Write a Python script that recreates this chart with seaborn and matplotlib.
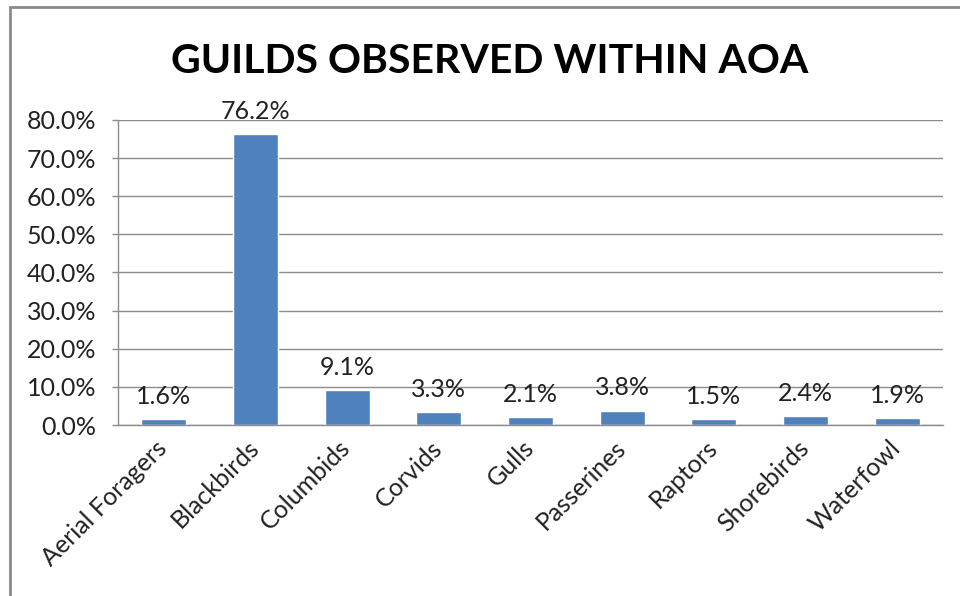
import numpy as np
import pandas as pd
import matplotlib
matplotlib.use("Agg")
import matplotlib.pyplot as plt
import seaborn as sns
from matplotlib.patches import Rectangle
from matplotlib.transforms import ScaledTranslation

# dados
guilds = ["Aerial Foragers", "Blackbirds", "Columbids", "Corvids", "Gulls",
          "Passerines", "Raptors", "Shorebirds", "Waterfowl"]
percent = [1.6, 76.2, 9.1, 3.3, 2.1, 3.8, 1.5, 2.4, 1.9]
yticks = [0, 10, 20, 30, 40, 50, 60, 70, 80]

df = pd.DataFrame({"guild": guilds, "pct": percent})

sns.set_style("white")
plt.rcParams["font.family"] = ["Lato", "DejaVu Sans"]

fig = plt.figure(figsize=(9.6, 5.96), dpi=100)
ax = fig.add_axes([0.1229, 0.2869, 0.8594, 0.5118])

sns.barplot(data=df, x="guild", y="pct", color="#4F81BD", saturation=1,
            width=0.49, ax=ax)

ax.bar_label(ax.containers[0], labels=[f"{v:.1f}%" for v in percent],
             padding=8, fontsize=18, color="#222222")

ax.set_ylim(0, 80)
ax.set_xlim(-0.5, len(guilds) - 0.5)
ax.set_yticks(yticks)
ax.set_yticklabels([f"{v:.1f}%" for v in yticks], fontsize=18, color="#222222")
ax.yaxis.grid(True, color="#8c8c8c", linewidth=1)
ax.set_axisbelow(True)

ax.set_xticks(range(len(guilds)))
ax.set_xticklabels(guilds, rotation=45, ha="right", rotation_mode="anchor",
                   fontsize=18, color="#222222")
ax.tick_params(axis="x", which="major", length=0, pad=8)
# desloca os rotulos um pouco para a esquerda
offset = ScaledTranslation(-6 / 72, 0, fig.dpi_scale_trans)
for lbl in ax.get_xticklabels():
    lbl.set_transform(lbl.get_transform() + offset)
ax.set_xticks(np.arange(-0.5, len(guilds)), minor=True)
ax.tick_params(axis="x", which="minor", length=4.5, color="#8c8c8c", width=1)
ax.tick_params(axis="y", length=4.5, color="#8c8c8c", width=1, left=True, pad=11)

ax.set_xlabel("")
ax.set_ylabel("")
for s in ["top", "right"]:
    ax.spines[s].set_visible(False)
for s in ["left", "bottom"]:
    ax.spines[s].set_color("#8c8c8c")
    ax.spines[s].set_linewidth(1)

fig.text(0.51, 0.897, "GUILDS OBSERVED WITHIN AOA", ha="center", va="center",
         fontsize=29.5, fontweight="bold", color="black")

# moldura do grafico
fig.patches.append(Rectangle((10 / 960, -0.05), 1.0, 1.05 - 7 / 596,
                             transform=fig.transFigure, fill=False,
                             edgecolor="#8a8a8a", linewidth=2))

plt.savefig("out.png", dpi=100)
